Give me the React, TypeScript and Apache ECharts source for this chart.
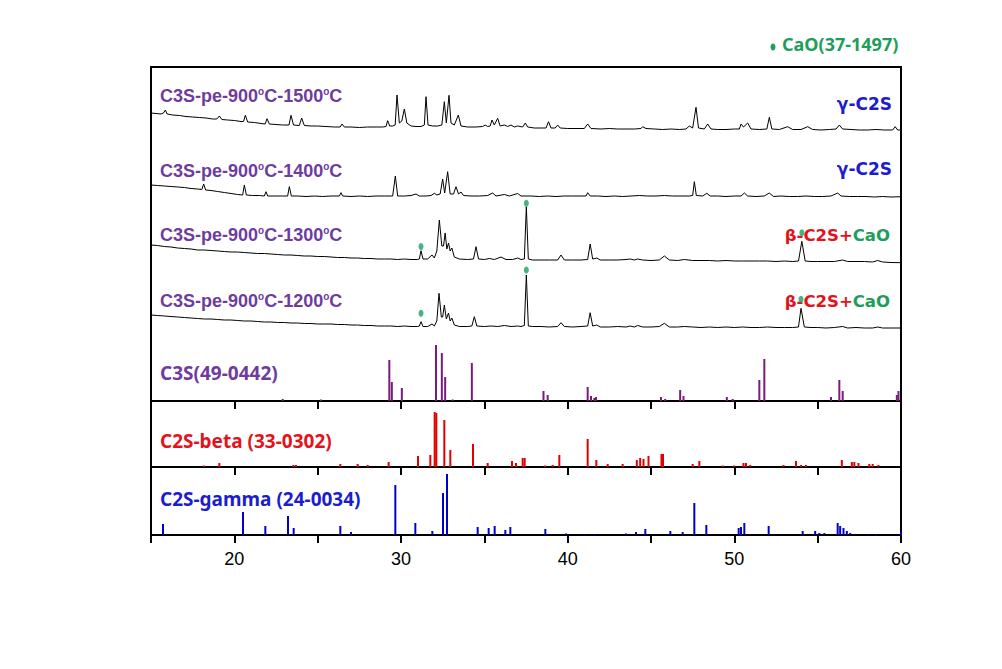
import React, { useEffect, useRef } from "react";
import * as echarts from "echarts";

// 2θ (deg) and intensity (arbitrary, offset-stacked units)
const p1500: number[][] = [
  [15.0, 288], [15.3, 287.5], [15.6, 287], [15.75, 288], [15.86, 291], [15.97, 287], [16.3, 286], [16.7, 285.5], [17.1, 284.5], [17.5, 284], [17.9, 283.5], [18.3, 283], [18.7, 282], [18.95, 282], [19.1, 285], [19.25, 281.5], [19.6, 281], [20.0, 280.5], [20.4, 279.5], [20.55, 279.5], [20.66, 285.7], [20.8, 279], [21.2, 278.5], [21.6, 277.5], [21.85, 277], [21.96, 282.3], [22.1, 277], [22.5, 276.5], [22.9, 276], [23.28, 276], [23.4, 285.7], [23.55, 276], [23.9, 275.5], [24.04, 283], [24.2, 275.5], [24.6, 275], [25.0, 275], [25.5, 274.5], [26.0, 274], [26.35, 274], [26.46, 277], [26.6, 274], [27.0, 274], [27.5, 273.5], [28.0, 274], [28.5, 274], [28.9, 274], [29.1, 274.5], [29.2, 280.3], [29.32, 275], [29.5, 275], [29.65, 276], [29.76, 306], [29.9, 278], [30.05, 280], [30.2, 292], [30.35, 278], [30.6, 275], [30.9, 274.5], [31.2, 274.5], [31.4, 276], [31.5, 304.3], [31.62, 276], [31.9, 275], [32.2, 275], [32.45, 276], [32.6, 299.3], [32.72, 278], [32.88, 305.7], [33.0, 278], [33.2, 276], [33.44, 286], [33.6, 275], [34.0, 274], [34.5, 274], [34.9, 274.5], [35.05, 276], [35.2, 274.5], [35.35, 275], [35.46, 281], [35.6, 276], [35.8, 282.7], [35.95, 275], [36.2, 276], [36.4, 274.5], [36.6, 276], [36.8, 274], [37.0, 275], [37.3, 274], [37.46, 278], [37.6, 274], [38.0, 273], [38.4, 273], [38.7, 273], [38.85, 279.3], [39.0, 273], [39.25, 273], [39.4, 276], [39.55, 273], [40.0, 272.5], [40.5, 272.5], [41.0, 272.5], [41.2, 277], [41.4, 272.5], [42.0, 272], [42.5, 272.5], [43.0, 272], [43.5, 272], [44.0, 272], [44.4, 272.5], [44.5, 274.3], [44.7, 272.5], [45.2, 272], [45.7, 271.5], [46.2, 272], [46.7, 271.5], [47.1, 272], [47.3, 275], [47.5, 273], [47.7, 293.7], [47.85, 273], [48.2, 272], [48.4, 277], [48.6, 272], [49.0, 271.5], [49.5, 271.5], [50.0, 272], [50.3, 272], [50.4, 277], [50.55, 274], [50.8, 278], [51.0, 272], [51.5, 271.5], [51.95, 272], [52.1, 283.7], [52.25, 272], [52.7, 271.5], [53.2, 274.3], [53.5, 271.5], [54.0, 271.5], [54.4, 274.3], [54.7, 271.5], [55.2, 271], [55.7, 271.5], [56.1, 272], [56.3, 276], [56.5, 272], [57.0, 271.5], [57.5, 271], [58.0, 271], [58.5, 271.5], [59.0, 271], [59.5, 271], [59.65, 274.3], [59.8, 271], [60.0, 271],
];

const p1400: number[][] = [
  [15.0, 216], [15.4, 215.5], [15.8, 215], [16.2, 214.5], [16.6, 214], [17.0, 213.5], [17.4, 212.5], [17.8, 212], [18.05, 211.5], [18.16, 217], [18.28, 211], [18.6, 210.5], [19.0, 209.5], [19.4, 208.5], [19.8, 207.5], [20.2, 206.5], [20.5, 206], [20.6, 216], [20.72, 206], [21.1, 205.5], [21.5, 205.5], [21.8, 205], [21.9, 209.3], [22.0, 205], [22.5, 205], [22.9, 205], [23.2, 205], [23.3, 214.3], [23.42, 205], [23.8, 205], [24.3, 204.5], [24.8, 205], [25.3, 204.5], [25.8, 205], [26.3, 205], [26.4, 208.3], [26.5, 205], [27.0, 204.5], [27.5, 205], [28.0, 204.5], [28.5, 205], [29.0, 205], [29.5, 205], [29.66, 225], [29.8, 205], [30.2, 205], [30.6, 205.5], [30.9, 207], [31.1, 205], [31.5, 205], [31.8, 205.5], [32.0, 207.7], [32.15, 206], [32.35, 207], [32.5, 222], [32.62, 208], [32.8, 229.3], [32.95, 207], [33.15, 207], [33.3, 214.3], [33.45, 207], [33.6, 209], [33.75, 205.5], [34.2, 205], [34.7, 205], [35.2, 205.5], [35.5, 208], [35.7, 205], [36.2, 206.5], [36.5, 205], [37.0, 207.5], [37.2, 205], [37.8, 205], [38.3, 204.5], [38.8, 205], [39.3, 204.5], [39.8, 205], [40.3, 205], [40.8, 205], [41.1, 205], [41.2, 208.3], [41.35, 205], [41.8, 205], [42.3, 204.5], [42.8, 205], [43.3, 204.5], [43.8, 205], [44.3, 205.5], [44.8, 205], [45.3, 205], [45.8, 205.5], [46.3, 205], [46.8, 205], [47.3, 205], [47.5, 205.5], [47.6, 219.3], [47.72, 205.5], [48.1, 205], [48.35, 207.7], [48.55, 205], [49.0, 205], [49.5, 204.5], [50.0, 205], [50.4, 205], [50.6, 208], [50.8, 205], [51.3, 204.5], [51.8, 205], [52.1, 208], [52.35, 204.5], [52.8, 205], [53.3, 204.5], [53.8, 204.5], [54.3, 205], [54.8, 204.5], [55.3, 204.5], [55.8, 205], [56.2, 208], [56.4, 205], [56.9, 204.5], [57.4, 204.5], [57.9, 204.5], [58.4, 204], [58.9, 204.5], [59.4, 204], [60.0, 204.3],
];

const p1300: number[][] = [
  [15.0, 156], [15.4, 155.5], [15.8, 154.5], [16.2, 154], [16.6, 153], [17.0, 152.5], [17.4, 152], [17.8, 151], [18.2, 151], [18.6, 150.5], [19.0, 150], [19.4, 149.5], [19.8, 149], [20.2, 149], [20.6, 148.5], [21.0, 148], [21.4, 147.5], [21.8, 147.5], [22.2, 147], [22.6, 146.5], [23.0, 146], [23.4, 146], [23.8, 145.5], [24.2, 145], [24.6, 145], [25.0, 144.5], [25.4, 144.5], [25.8, 144], [26.2, 143.5], [26.6, 143.5], [27.0, 143], [27.4, 143], [27.8, 142.5], [28.2, 142.5], [28.6, 142], [29.0, 142], [29.4, 142], [29.8, 141.5], [30.2, 142], [30.6, 141.5], [31.0, 141.5], [31.1, 142], [31.2, 150.3], [31.32, 142], [31.6, 142], [31.86, 146], [32.0, 143], [32.15, 150], [32.3, 181], [32.45, 155], [32.55, 155], [32.65, 168], [32.75, 152], [32.85, 158], [32.95, 150], [33.05, 153], [33.2, 144], [33.5, 142], [34.0, 141.5], [34.35, 142], [34.5, 154.3], [34.65, 142], [35.0, 141.5], [35.3, 142.5], [35.6, 141.5], [36.0, 144], [36.3, 141.5], [36.7, 141.5], [37.0, 143], [37.2, 141.5], [37.4, 142], [37.52, 194.3], [37.64, 142], [37.9, 141], [38.4, 141], [38.9, 141], [39.4, 141], [39.6, 146], [39.8, 141], [40.3, 141], [40.8, 141], [41.2, 141.5], [41.35, 157], [41.5, 142], [41.75, 143], [41.95, 141], [42.5, 141], [43.0, 141], [43.5, 141.5], [43.75, 142], [44.0, 141], [44.2, 142], [44.5, 141], [45.0, 140.5], [45.5, 141], [45.8, 145], [46.1, 141], [46.6, 140.5], [47.0, 141.5], [47.5, 140.5], [48.0, 140.5], [48.5, 140.5], [49.0, 140], [49.5, 140.5], [50.0, 140], [50.5, 140], [51.0, 140], [51.5, 140], [52.0, 140], [52.5, 139.5], [53.0, 140], [53.5, 139.5], [53.85, 140], [54.05, 159.7], [54.25, 140], [54.6, 139.5], [55.0, 139.5], [55.5, 139.5], [56.0, 139.5], [56.5, 141], [56.8, 139.5], [57.3, 139.5], [57.8, 139.5], [58.3, 139], [58.6, 140.5], [58.9, 139], [59.4, 138.5], [60.0, 138.3],
];

const p1200: number[][] = [
  [15.0, 86], [15.4, 85.5], [15.8, 85], [16.2, 84.5], [16.6, 84], [17.0, 83.5], [17.4, 83], [17.8, 82.5], [18.2, 82], [18.6, 82], [19.0, 81.5], [19.4, 81], [19.8, 81], [20.2, 80.5], [20.6, 80], [21.0, 80], [21.4, 79.5], [21.8, 79], [22.2, 79], [22.6, 78.5], [23.0, 78.5], [23.4, 78], [23.8, 78], [24.2, 77.5], [24.6, 77.5], [25.0, 77], [25.4, 77], [25.8, 77], [26.2, 76.5], [26.6, 76.5], [27.0, 76], [27.4, 76], [27.8, 75.5], [28.2, 75.5], [28.6, 75], [29.0, 75], [29.4, 75], [29.8, 74.5], [30.2, 75], [30.6, 74.5], [31.0, 74.5], [31.1, 75], [31.2, 79.3], [31.32, 74.5], [31.6, 74.5], [31.86, 77], [32.0, 75], [32.15, 80], [32.28, 107.7], [32.42, 84], [32.5, 84], [32.6, 96], [32.72, 82], [32.85, 88], [32.95, 80], [33.05, 83], [33.2, 76], [33.5, 74.5], [34.0, 74.5], [34.25, 75], [34.4, 84.3], [34.55, 75], [35.0, 74.5], [35.4, 75], [35.8, 74.5], [36.2, 75.5], [36.6, 74.5], [37.0, 75], [37.2, 74.5], [37.4, 75.5], [37.52, 126], [37.64, 75], [37.9, 74.5], [38.4, 74.5], [38.9, 74], [39.4, 74.5], [39.6, 78.3], [39.8, 74.5], [40.3, 74], [40.8, 74.5], [41.2, 75], [41.35, 88.3], [41.5, 75], [41.75, 76], [41.95, 74], [42.5, 74], [43.0, 74.5], [43.5, 74], [43.75, 75], [44.0, 74], [44.2, 75.5], [44.5, 74], [45.0, 74], [45.5, 74.5], [45.8, 77.7], [46.1, 74], [46.6, 74], [47.0, 74.5], [47.5, 74], [48.0, 73.5], [48.5, 74], [49.0, 73.5], [49.5, 74], [50.0, 73.5], [50.5, 74], [51.0, 73.5], [51.5, 73.5], [52.0, 74], [52.5, 73.5], [53.0, 73.5], [53.5, 73.5], [53.85, 74], [54.0, 92.7], [54.2, 74], [54.6, 73.5], [55.0, 73.5], [55.5, 73], [56.0, 73.5], [56.5, 74.5], [56.8, 73], [57.3, 73.5], [57.8, 73], [58.3, 73], [58.6, 74], [58.9, 73], [59.4, 73], [60.0, 73],
];

// CaO marker positions (2θ, intensity) above the peaks
const cao1300: number[][] = [[31.2, 154.5], [37.52, 197.7], [54.05, 168.3]];
const cao1200: number[][] = [[31.2, 87.7], [37.52, 131], [54.0, 101.7]];

// Reference stick patterns (2θ, relative height)
const c3sRef: number[][] = [
  [22.9, 2], [25.2, 1.5], [29.3, 41], [29.45, 19], [30.05, 13], [32.1, 56], [32.45, 48], [32.65, 24], [33.1, 1.5], [34.25, 38], [38.55, 10], [38.8, 6], [41.2, 14], [41.4, 5], [41.6, 3], [41.7, 4], [45.6, 4], [45.85, 2], [46.75, 11], [46.95, 5], [49.55, 4], [49.9, 2], [51.5, 21], [51.8, 42], [55.8, 4], [56.3, 21], [56.5, 10], [59.75, 6], [59.85, 10],
];
const c2sBetaRef: number[][] = [
  [18.16, 1.5], [19.1, 4], [23.55, 2], [23.7, 2], [26.36, 3], [27.4, 3], [28.0, 2], [29.26, 5], [31.02, 11], [31.76, 12], [32.02, 55], [32.12, 54], [32.6, 47], [32.96, 17], [34.32, 23], [35.2, 4], [36.66, 6], [36.9, 4], [37.3, 9], [37.42, 9], [38.65, 1.5], [39.1, 2], [39.5, 12], [41.2, 28], [41.72, 7], [42.4, 3], [43.3, 3], [44.15, 7], [44.35, 9], [44.55, 8], [44.85, 11], [45.63, 13], [45.72, 13], [47.5, 3], [47.9, 6], [49.3, 1.5], [50.0, 1.5], [50.55, 4], [50.7, 4], [50.95, 2], [52.95, 2], [53.7, 6], [54.0, 2], [54.3, 2], [56.45, 7], [57.05, 5], [57.2, 5], [57.45, 4], [58.1, 3], [58.3, 3], [58.65, 2],
];
const c2sGammaRef: number[][] = [
  [15.72, 11], [20.52, 23], [21.86, 9], [23.22, 19], [23.56, 7], [26.36, 9], [27.0, 3], [29.66, 50], [30.86, 12], [31.88, 4], [32.52, 42], [32.76, 61], [34.6, 8], [35.26, 7], [35.62, 9], [36.26, 5], [36.56, 8], [38.66, 6], [39.9, 1.5], [41.0, 1], [41.6, 1], [43.5, 1.5], [44.1, 3], [44.66, 6], [46.16, 4], [46.9, 3], [47.6, 32], [48.32, 10], [50.26, 7], [50.4, 8], [50.6, 12], [52.06, 9], [54.1, 4], [54.85, 4], [55.1, 2], [55.4, 2], [56.2, 12], [56.35, 9], [56.55, 7], [56.75, 4], [56.95, 2], [58.0, 1], [58.5, 1], [60.0, 3],
];

const xTicks = [20, 30, 40, 50, 60];
const sampleTemps = ["1500", "1400", "1300", "1200"];
const phaseLabels = ["γ-C2S", "γ-C2S"];

const PURPLE = "#6E3C9E";
const STICK_PURPLE = "#7A1A7A";
const RED = "#E3121B";
const BLUE = "#1C1CD0";
const GREEN = "#1E9E5A";
const FONT = "'Liberation Sans', Arial, sans-serif";
const FONT2 = "'Noto Sans', 'Open Sans', sans-serif";
const FONT3 = "'DejaVu Sans', sans-serif";

export default function App() {
  const ref = useRef<HTMLDivElement>(null);
  useEffect(() => {
    document.body.style.margin = "0";
    const chart = echarts.init(ref.current!, null, { renderer: "svg" });
    const gridBase = { left: 151, width: 750, show: true, borderColor: "#000", borderWidth: 2, backgroundColor: "transparent" };
    const mkX = (i: number) => ({
      type: "value",
      gridIndex: i,
      min: 15,
      max: 60,
      interval: 5,
      axisLine: { show: false },
      axisTick: { show: true, inside: false, length: 8, lineStyle: { color: "#000", width: 2 } },
      splitLine: { show: false },
      axisLabel: {
        show: i === 2,
        margin: 15,
        color: "#000",
        fontSize: 18,
        fontFamily: FONT,
        formatter: (v: number) => (xTicks.includes(v) ? String(v) : ""),
      },
    });
    const mkY = (i: number, max: number) => ({
      type: "value",
      gridIndex: i,
      min: 0,
      max,
      show: false,
      splitLine: { show: false },
    });
    const sampleY = [96, 171, 235, 301];
    const sampleTexts = sampleTemps.map((t, k) => ({
      type: "text",
      left: 160,
      top: sampleY[k] - 10,
      style: {
        text: `{a|C3S-pe-900}{s|o}{a|C-${t}}{s|o}{a|C}`,
        rich: {
          a: { fontSize: 18, fontWeight: "bold", fill: PURPLE, fontFamily: FONT, lineHeight: 20 },
          s: { fontSize: 10, fontWeight: "bold", fill: PURPLE, fontFamily: FONT, verticalAlign: "top", lineHeight: 20, padding: [0, 0, 7, 0] },
        },
      },
      z: 10,
    }));
    const option: any = {
      animation: false,
      backgroundColor: "#fff",
      grid: [
        { ...gridBase, top: 67, height: 334 },
        { ...gridBase, top: 401, height: 66 },
        { ...gridBase, top: 467, height: 68 },
      ],
      xAxis: [mkX(0), mkX(1), mkX(2)],
      yAxis: [mkY(0, 334), mkY(1, 66), mkY(2, 68)],
      series: [
        ...[p1500, p1400, p1300, p1200].map((d, k) => ({
          type: "line",
          name: sampleTemps[k],
          xAxisIndex: 0,
          yAxisIndex: 0,
          data: d,
          showSymbol: false,
          symbol: "none",
          silent: true,
          lineStyle: { color: "#000", width: 1 },
        })),
        {
          type: "scatter",
          xAxisIndex: 0,
          yAxisIndex: 0,
          data: [...cao1300, ...cao1200],
          symbol: "circle",
          symbolSize: [5, 7],
          itemStyle: { color: "#1AA060" },
          silent: true,
          z: 5,
        },
        {
          type: "bar",
          xAxisIndex: 0,
          yAxisIndex: 0,
          data: c3sRef,
          barWidth: 2,
          itemStyle: { color: STICK_PURPLE },
          silent: true,
        },
        {
          type: "bar",
          xAxisIndex: 1,
          yAxisIndex: 1,
          data: c2sBetaRef,
          barWidth: 2,
          itemStyle: { color: "#E00000" },
          silent: true,
        },
        {
          type: "bar",
          xAxisIndex: 2,
          yAxisIndex: 2,
          data: c2sGammaRef,
          barWidth: 2,
          itemStyle: { color: "#0000CC" },
          silent: true,
        },
      ],
      graphic: [
        ...sampleTexts,
        ...phaseLabels.map((t, k) => ({
          type: "text",
          right: 1002 - 892,
          top: [106, 171][k] - 11,
          style: { text: t, fill: BLUE, fontSize: 17, fontWeight: "bold", fontFamily: FONT3 },
          z: 10,
        })),
        ...[238, 304].map((y) => ({
          type: "text",
          right: 1002 - 890,
          top: y - 11,
          style: {
            text: "{r|β-C2S+}{g|CaO}",
            rich: {
              r: { fill: RED, fontSize: 16.5, fontWeight: "bold", fontFamily: FONT3 },
              g: { fill: GREEN, fontSize: 16.5, fontWeight: "bold", fontFamily: FONT3 },
            },
          },
          z: 4,
        })),
        {
          type: "text",
          left: 160,
          top: 375 - 12,
          style: { text: "C3S(49-0442)", fill: PURPLE, fontSize: 19, fontWeight: "bold", fontFamily: FONT2 },
          z: 10,
        },
        {
          type: "text",
          left: 160,
          top: 443 - 12,
          style: { text: "C2S-beta (33-0302)", fill: RED, fontSize: 19, fontWeight: "bold", fontFamily: FONT2 },
          z: 10,
        },
        {
          type: "text",
          left: 160,
          top: 502 - 13,
          style: { text: "C2S-gamma (24-0034)", fill: BLUE, fontSize: 19, fontWeight: "bold", fontFamily: FONT2 },
          z: 10,
        },
        {
          type: "ellipse",
          shape: { cx: 773, cy: 47, rx: 2.5, ry: 3.5 },
          style: { fill: "#1AA060" },
        },
        {
          type: "text",
          left: 782,
          top: 47 - 12,
          style: { text: "CaO(37-1497)", fill: GREEN, fontSize: 18, fontWeight: "bold", fontFamily: FONT2 },
        },
      ],
    };
    chart.setOption(option);
    return () => chart.dispose();
  }, []);
  return <div ref={ref} style={{ width: 1002, height: 669 }} />;
}
